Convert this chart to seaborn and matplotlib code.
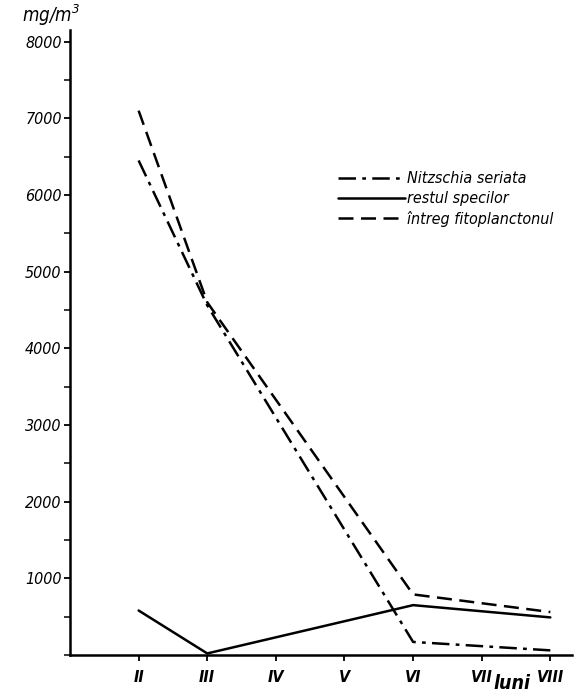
import pandas as pd
import seaborn as sns
import matplotlib.pyplot as plt
from matplotlib.ticker import MultipleLocator

# month positions (II..VIII -> 2..8) and values, mg/m3
months = [2, 3, 6, 8]
nitzschia = [6450, 4560, 170, 60]
restul = [580, 20, 650, 490]
intreg = [7100, 4600, 790, 560]

month_ticks = [2, 3, 4, 5, 6, 7, 8]
month_labels = ['II', 'III', 'IV', 'V', 'VI', 'VII', 'VIII']
series_names = ['Nitzschia seriata', 'restul specilor', 'întreg fitoplanctonul']

df = pd.DataFrame({
    'luna': months * 3,
    'mg': nitzschia + restul + intreg,
    'serie': [series_names[0]] * 4 + [series_names[1]] * 4 + [series_names[2]] * 4,
})

sns.set_style('ticks')
plt.rcParams['font.family'] = ['DejaVu Sans']
plt.rcParams['font.stretch'] = 'condensed'
plt.rcParams['font.style'] = 'italic'
plt.rcParams['text.color'] = 'black'

fig = plt.figure(figsize=(5.8, 6.95), dpi=100)
ax = fig.add_axes([0.1207, 0.0576, 0.866, 0.899])

ax = sns.lineplot(data=df, x='luna', y='mg', style='serie', style_order=series_names,
                  dashes={series_names[0]: (7, 2.5, 1.5, 2.5),
                          series_names[1]: '',
                          series_names[2]: (6, 3)},
                  color='black', linewidth=1.8, ax=ax, legend=True)

ax.set_xlim(1, 8.32)
ax.set_ylim(0, 8150)
ax.set_xticks(month_ticks)
ax.set_xticklabels(month_labels, fontsize=11.5, fontweight='bold')
ax.yaxis.set_minor_locator(MultipleLocator(500))
ax.set_yticks([1000, 2000, 3000, 4000, 5000, 6000, 7000, 8000])
ax.set_yticklabels(['1000', '2000', '3000', '4000', '5000', '6000', '7000', '8000'], fontsize=11.5)
ax.tick_params(axis='both', direction='out', length=4, width=1.3, colors='black')
ax.tick_params(axis='y', which='minor', length=4, width=1.3)
ax.tick_params(axis='x', pad=7)
ax.tick_params(axis='y', pad=2)
for s in ['left', 'bottom']:
    ax.spines[s].set_linewidth(1.8)
    ax.spines[s].set_color('black')
sns.despine(ax=ax)

ax.set_xlabel('')
ax.set_ylabel('')
fig.text(0.088, 0.978, 'mg/m$^3$', fontsize=13.5, ha='center', va='center')
fig.text(0.883, 0.016, 'luni', fontsize=14, fontweight='bold', ha='center', va='center')

leg = ax.legend(loc='upper left', bbox_to_anchor=(0.505, 0.797), frameon=False,
                fontsize=11.5, handlelength=4.2, handletextpad=0.1, labelspacing=0.3)
for line in leg.get_lines():
    line.set_linewidth(1.8)

fig.savefig('out.png', dpi=100)
